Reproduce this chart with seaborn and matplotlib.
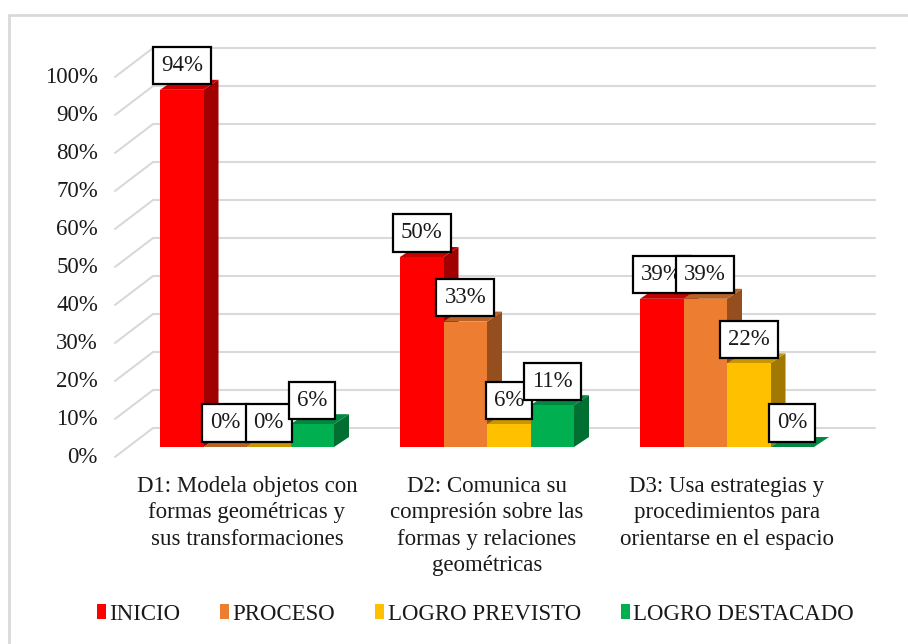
import numpy as np
import pandas as pd
import matplotlib
matplotlib.use("Agg")
import matplotlib.pyplot as plt
import seaborn as sns
from matplotlib.patches import Polygon, Patch
from matplotlib.lines import Line2D
from matplotlib.transforms import IdentityTransform, ScaledTranslation
import matplotlib.colors as mcolors

# ---------------- data ----------------
categories = [
    "D1: Modela objetos con\nformas geométricas y\nsus transformaciones",
    "D2: Comunica su\ncompresión sobre las\nformas y relaciones\ngeométricas",
    "D3: Usa estrategias y\nprocedimientos para\norientarse en el espacio",
]
levels = ["INICIO", "PROCESO", "LOGRO PREVISTO", "LOGRO DESTACADO"]
inicio = [0.94, 0.50, 0.39]
proceso = [0.00, 0.33, 0.39]
logro_previsto = [0.00, 0.06, 0.22]
logro_destacado = [0.06, 0.11, 0.00]
colors = ["#FF0000", "#ED7D31", "#FFC000", "#00B050"]
yticks = [0.0, 0.1, 0.2, 0.3, 0.4, 0.5, 0.6, 0.7, 0.8, 0.9, 1.0]
ytick_labels = ["0%", "10%", "20%", "30%", "40%", "50%", "60%", "70%", "80%", "90%", "100%"]

series = [inicio, proceso, logro_previsto, logro_destacado]
df = pd.DataFrame({
    "dim": [c for _ in levels for c in categories],
    "level": [lv for lv in levels for _ in categories],
    "value": [v for s in series for v in s],
})

# ---------------- style ----------------
sns.set_style("white")
plt.rcParams["font.family"] = ["Liberation Serif", "DejaVu Serif"]
FS = 16.5
TXT = "#1a1a1a"
GRID = "#D9D9D9"

DPI = 100
W, H = 908, 644
fig = plt.figure(figsize=(W / DPI, H / DPI), dpi=DPI)
ax = fig.add_axes([127 / W, 197 / H, 720 / W, 380 / H])

sns.barplot(data=df, x="dim", y="value", hue="level", hue_order=levels,
            order=categories, palette=colors, width=0.725, gap=0,
            saturation=1, legend=False, ax=ax, linewidth=0, edgecolor="none")
ax.set_xlim(-0.5, 2.5)
ax.set_ylim(0, 1)
for s in ax.spines.values():
    s.set_visible(False)
ax.set_xlabel("")
ax.set_ylabel("")

ident = IdentityTransform()


def px(x, y):
    return ax.transData.transform((x, y))


DX, DY = 15, 10  # bar depth in pixels

# back wall gridlines with diagonal floor/side lines
for v in yticks:
    XL, Yf = px(-0.5, v)
    XR, _ = px(2.5, v)
    ax.add_line(Line2D([XL - 12, XL + 26], [Yf - 10, Yf + 19], transform=ident,
                       color=GRID, lw=1.5, zorder=0.5, clip_on=False))
    ax.add_line(Line2D([XL + 26, XR + 28], [Yf + 19, Yf + 19], transform=ident,
                       color=GRID, lw=1.5, zorder=0.5, clip_on=False))


def shade(c, f):
    r, g, b = mcolors.to_rgb(c)
    return (r * f, g * f, b * f)


# pseudo-3D faces derived from seaborn bars
for ci, container in enumerate(ax.containers):
    col = colors[ci]
    for bar in container:
        x0 = bar.get_x()
        w = bar.get_width()
        h = bar.get_height()
        X0, Y0 = px(x0, 0)
        X1, Y1 = px(x0 + w, h)
        z = 2 + ci * 0.1
        bar.set_zorder(z + 0.05)
        side = [(X1, Y0), (X1, Y1), (X1 + DX, Y1 + DY), (X1 + DX, Y0 + DY)]
        top = [(X0, Y1), (X1, Y1), (X1 + DX, Y1 + DY), (X0 + DX, Y1 + DY)]
        ax.add_patch(Polygon(side, closed=True, transform=ident, clip_on=False,
                             facecolor=shade(col, 0.63), edgecolor="none", zorder=z))
        ax.add_patch(Polygon(top, closed=True, transform=ident, clip_on=False,
                             facecolor=shade(col, 0.78), edgecolor="none", zorder=z + 0.02))
        ax.annotate(f"{round(h * 100):.0f}%", xy=(x0 + w / 2, h),
                    xytext=(0, 24 * 72 / DPI), textcoords="offset points",
                    ha="center", va="center", fontsize=FS, color=TXT, zorder=10,
                    annotation_clip=False,
                    bbox=dict(boxstyle="square,pad=0.35", fc="white", ec="black", lw=1.6))

# axes ticks
ax.set_yticks(yticks, ytick_labels)
ax.tick_params(axis="y", length=0, pad=29 * 72 / DPI, labelsize=FS, labelcolor=TXT)
shift = ScaledTranslation(0, -8 / DPI, fig.dpi_scale_trans)
for lab in ax.get_yticklabels():
    lab.set_transform(lab.get_transform() + shift)
ax.set_xticks([0, 1, 2], categories)
ax.tick_params(axis="x", length=0, pad=29 * 72 / DPI, labelsize=FS, labelcolor=TXT)
for lab in ax.get_xticklabels():
    lab.set_linespacing(1.33)
    lab.set_horizontalalignment("center")
    lab.set_multialignment("center")

# legend
handles = [Patch(facecolor=c, edgecolor="none") for c in colors]
fig.legend(handles, levels, loc="center", bbox_to_anchor=(475.5 / W, 1 - 614 / H),
           ncol=4, frameon=False, fontsize=FS, handlelength=0.38, handleheight=0.65,
           handletextpad=0.15, columnspacing=1.75, labelcolor=TXT)

# chart frame (left and top edges)
fig.add_artist(Line2D([9 / W, 9 / W], [0, 1 - 15 / H], transform=fig.transFigure,
                      color=GRID, lw=2))
fig.add_artist(Line2D([9 / W, 1], [1 - 15 / H, 1 - 15 / H], transform=fig.transFigure,
                      color=GRID, lw=2))

fig.savefig("out.png", dpi=DPI, facecolor="white")
